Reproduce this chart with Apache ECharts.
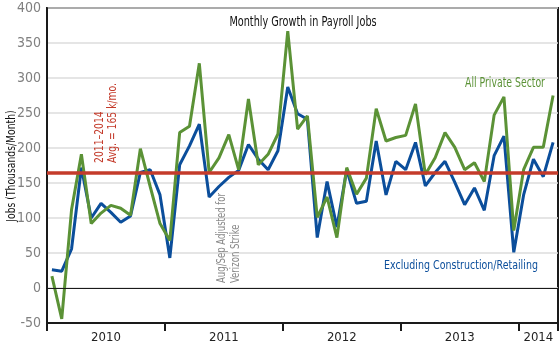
<!DOCTYPE html>
<html>
<head>
<meta charset="utf-8">
<script src="https://cdn.jsdelivr.net/npm/echarts@6/dist/echarts.min.js"></script>
<style>html,body{margin:0;padding:0;background:#fff;}#c{width:560px;height:346px;}</style>
</head>
<body>
<div id="c"></div>
<script>
var months = [
 '2010-01','2010-02','2010-03','2010-04','2010-05','2010-06','2010-07','2010-08','2010-09','2010-10','2010-11','2010-12',
 '2011-01','2011-02','2011-03','2011-04','2011-05','2011-06','2011-07','2011-08','2011-09','2011-10','2011-11','2011-12',
 '2012-01','2012-02','2012-03','2012-04','2012-05','2012-06','2012-07','2012-08','2012-09','2012-10','2012-11','2012-12',
 '2013-01','2013-02','2013-03','2013-04','2013-05','2013-06','2013-07','2013-08','2013-09','2013-10','2013-11','2013-12',
 '2014-01','2014-02','2014-03','2014-04'];
var years = ['2010','2011','2012','2013','2014'];
var allPrivate = [17,-44,112,191,92,107,118,114,104,199,145,92,
  68,222,231,321,165,186,219,169,270,176,191,220,
  367,227,246,101,130,72,172,134,157,256,210,215,
  218,263,162,186,222,201,169,179,152,247,273,82,
  169,201,201,275];
var exConstRetail = [26,24,56,172,100,121,108,94,103,165,169,133,
  43,176,203,234,130,145,158,168,205,184,169,196,
  287,249,241,72,152,87,169,121,124,210,133,181,
  169,208,146,165,181,151,119,143,111,189,217,51,
  133,184,159,208];
var avgValue = 165;
var yTicks = {min: -50, max: 400, step: 50};

var FONT = "'DejaVu Sans Condensed','Liberation Sans Narrow',sans-serif";
var GREEN = '#5b9236', BLUE = '#0b4e9b', RED = '#c43b2b';
var NARROW = 0.79;

var yearCentre = {};
years.forEach(function (y) {
  var first = -1, last = -1;
  months.forEach(function (m, i) { if (m.indexOf(y) === 0) { if (first < 0) first = i; last = i; } });
  yearCentre[(first + last + 1) / 2] = y;
});

function txt(str, x, y, color, size, opts) {
  opts = opts || {};
  return {
    type: 'text', x: x, y: y, z: 10, rotation: opts.rot || 0,
    scaleX: opts.sx || NARROW, scaleY: 1,
    style: {text: str, fill: color, font: size + 'px ' + FONT,
      textAlign: opts.align || 'center', textVerticalAlign: 'middle'}
  };
}

var chart = echarts.init(document.getElementById('c'), null, {renderer: 'canvas'});
chart.setOption({
  animation: false,
  backgroundColor: '#fff',
  grid: {left: 47, right: 2, top: 8, bottom: 23, containLabel: false, outerBoundsMode: 'none',
    show: true, borderColor: '#1a1a1a', borderWidth: 2, backgroundColor: 'transparent'},
  xAxis: [{
    type: 'category', data: months, boundaryGap: true,
    axisLine: {show: true, onZero: false, lineStyle: {color: '#1a1a1a', width: 2}},
    axisTick: {show: true, inside: false, length: 8, interval: function (i) { return i % 12 === 0; }, lineStyle: {color: '#1a1a1a', width: 2}},
    axisLabel: {show: false}, splitLine: {show: false}
  }, {
    type: 'value', min: 0, max: months.length, interval: 2, position: 'bottom',
    axisLine: {show: false}, axisTick: {show: false}, splitLine: {show: false},
    axisLabel: {show: true, margin: 8, color: '#222', fontFamily: FONT, fontSize: 13,
      formatter: function (v) { return yearCentre[v] || ''; }}
  }],
  yAxis: {
    type: 'value', min: yTicks.min, max: yTicks.max, interval: yTicks.step,
    axisLine: {show: true, onZero: false, lineStyle: {color: '#1a1a1a', width: 2}},
    axisTick: {show: false},
    axisLabel: {color: '#808080', fontFamily: FONT, fontSize: 14, margin: 6},
    splitLine: {show: true, lineStyle: {color: '#dcdcdc', width: 1.5}}
  },
  series: [{
    type: 'line', data: [], z: 1, silent: true,
    markLine: {
      silent: true, symbol: 'none', label: {show: false},
      data: [
        {yAxis: 0, lineStyle: {color: '#1a1a1a', width: 1.2, type: 'solid'}},
        {yAxis: avgValue, lineStyle: {color: RED, width: 3.5, type: 'solid'}}
      ]
    }
  }, {
    name: 'Excluding Construction/Retailing', type: 'line', data: exConstRetail, z: 3,
    symbol: 'none', lineStyle: {color: BLUE, width: 3}, itemStyle: {color: BLUE}
  }, {
    name: 'All Private Sector', type: 'line', data: allPrivate, z: 4,
    symbol: 'none', lineStyle: {color: GREEN, width: 3}, itemStyle: {color: GREEN}
  }],
  graphic: [
    txt('Monthly Growth in Payroll Jobs', 303, 22, '#111', 14, {sx: 0.77}),
    txt('All Private Sector', 505, 83, GREEN, 14, {sx: 0.74}),
    txt('Excluding Construction/Retailing', 461, 266, BLUE, 13, {sx: 0.81}),
    txt('Jobs (Thousands/Month)', 12, 166, '#111', 13, {rot: Math.PI / 2, sx: 0.79}),
    txt('2011\u20132014', 100, 163, RED, 13, {rot: Math.PI / 2, align: 'left'}),
    txt('Avg. = 165 k/mo.', 113, 163, RED, 13, {rot: Math.PI / 2, align: 'left'}),
    txt('Aug/Sep Adjusted for', 222, 283, '#8a8a8a', 12, {rot: Math.PI / 2, align: 'left'}),
    txt('Verizon Strike', 236, 283, '#8a8a8a', 12, {rot: Math.PI / 2, align: 'left'})
  ]
});
</script>
</body>
</html>
